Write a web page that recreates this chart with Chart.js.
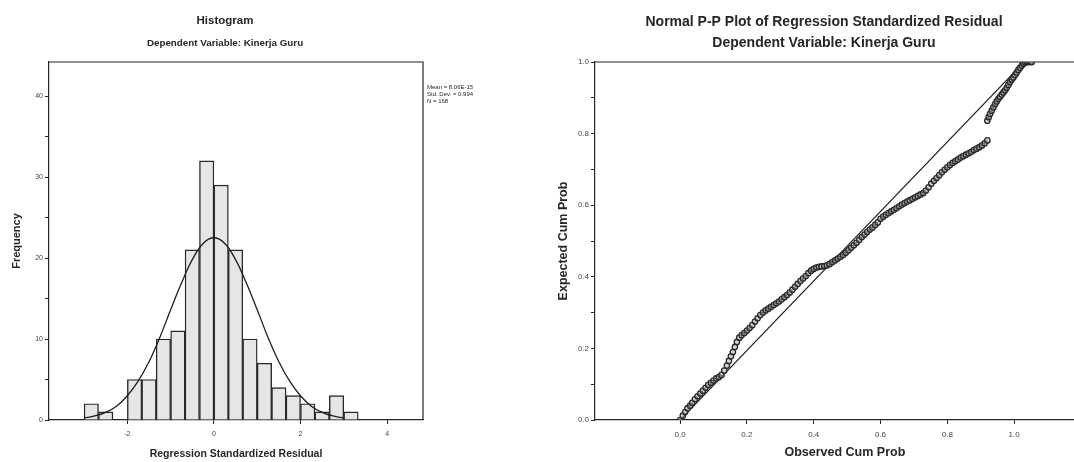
<!DOCTYPE html>
<html>
<head>
<meta charset="utf-8">
<script src="https://cdn.jsdelivr.net/npm/chart.js@4.4.1/dist/chart.umd.min.js"></script>
<style>
    html, body { margin: 0; padding: 0; background: #fff; overflow: hidden; width: 1074px; height: 462px; }
    #histChart { position: absolute; left: 0; top: 0; }
    #ppChart { position: absolute; left: 540px; top: 0; }
</style>
</head>
<body>
<canvas id="histChart" width="540" height="462"></canvas>
<canvas id="ppChart" width="560" height="462"></canvas>
<script>
// histogram of residuals (bins 1/3 wide)
const binCenters = [-2.833, -2.5, -2.167, -1.833, -1.5, -1.167, -0.833, -0.5, -0.167, 0.167, 0.5, 0.833, 1.167, 1.5, 1.833, 2.167, 2.5, 2.833, 3.167];
const binCounts = [2, 1, 0, 5, 5, 10, 11, 21, 32, 29, 21, 10, 7, 4, 3, 2, 1, 3, 1];

// normal curve
const curveX = [-3, -2.75, -2.5, -2.25, -2, -1.75, -1.5, -1.25, -1, -0.75, -0.5, -0.25, 0, 0.25, 0.5, 0.75, 1, 1.25, 1.5, 1.75, 2, 2.25, 2.5, 2.75, 3];
const curveY = [0.25, 0.5, 0.95, 1.7, 3.0, 4.8, 7.2, 10.2, 13.6, 16.9, 19.8, 21.8, 22.5, 21.8, 19.8, 16.9, 13.6, 10.2, 7.2, 4.8, 3.0, 1.7, 0.95, 0.5, 0.25];

const histXTicks = [-2, 0, 2, 4];
const histYTicks = [0, 10, 20, 30, 40];
const histYMinor = [5, 15, 25, 35];
const histStats = ['Mean = 8.06E-15', 'Std. Dev. = 0.994', 'N = 168'];

// normal P-P plot points
const ppObserved = [
    0.0, 0.008, 0.015, 0.022, 0.03, 0.036, 0.044, 0.052, 0.06, 0.068, 0.076, 0.084, 0.092, 0.1, 0.108, 0.116, 0.124, 0.132, 0.14, 0.146,
    0.152, 0.158, 0.164, 0.17, 0.177, 0.184, 0.192, 0.2, 0.208, 0.216, 0.224, 0.232, 0.24, 0.248, 0.256, 0.264, 0.272, 0.28, 0.288, 0.296,
    0.304, 0.312, 0.32, 0.328, 0.336, 0.344, 0.352, 0.36, 0.368, 0.376, 0.384, 0.392, 0.4, 0.408, 0.416, 0.424, 0.432, 0.44, 0.448, 0.456,
    0.464, 0.472, 0.48, 0.488, 0.496, 0.504, 0.512, 0.52, 0.528, 0.536, 0.544, 0.552, 0.56, 0.568, 0.576, 0.584, 0.592, 0.6, 0.608, 0.616,
    0.624, 0.632, 0.64, 0.648, 0.656, 0.664, 0.672, 0.68, 0.688, 0.696, 0.704, 0.712, 0.72, 0.728, 0.736, 0.744, 0.752, 0.76, 0.768, 0.776,
    0.784, 0.792, 0.8, 0.808, 0.816, 0.824, 0.832, 0.84, 0.848, 0.856, 0.864, 0.872, 0.88, 0.888, 0.896, 0.904, 0.912, 0.92,
    0.92, 0.924, 0.928, 0.933, 0.938, 0.943, 0.948, 0.953, 0.958, 0.963, 0.968, 0.973, 0.978, 0.983, 0.988, 0.993, 0.998, 1.003, 1.008, 1.013,
    1.018, 1.023, 1.028, 1.033, 1.038, 1.043, 1.048, 1.053
];
const ppExpected = [
    0.0, 0.012, 0.022, 0.033, 0.04, 0.048, 0.058, 0.066, 0.074, 0.082, 0.09, 0.098, 0.104, 0.11, 0.116, 0.12, 0.126, 0.138, 0.152, 0.165,
    0.178, 0.19, 0.204, 0.218, 0.23, 0.237, 0.243, 0.25, 0.257, 0.265, 0.275, 0.284, 0.293, 0.3, 0.306, 0.311, 0.316, 0.321, 0.326, 0.331,
    0.337, 0.343, 0.349, 0.356, 0.364, 0.372, 0.38, 0.388, 0.395, 0.402, 0.41, 0.417, 0.422, 0.426, 0.428, 0.429, 0.43, 0.432, 0.436, 0.441,
    0.446, 0.451, 0.456, 0.461, 0.467, 0.474, 0.481, 0.488, 0.495, 0.503, 0.511, 0.518, 0.525, 0.532, 0.538, 0.545, 0.552, 0.562, 0.568, 0.573,
    0.578, 0.583, 0.587, 0.592, 0.597, 0.602, 0.606, 0.61, 0.614, 0.618, 0.622, 0.626, 0.63, 0.634, 0.641, 0.65, 0.66, 0.668, 0.676, 0.684,
    0.692, 0.699, 0.706, 0.712, 0.718, 0.723, 0.728, 0.733, 0.737, 0.741, 0.745, 0.749, 0.754, 0.758, 0.762, 0.767, 0.773, 0.781,
    0.836, 0.846, 0.855, 0.864, 0.873, 0.882, 0.89, 0.897, 0.903, 0.909, 0.915, 0.921, 0.928, 0.936, 0.944, 0.951, 0.957, 0.964, 0.971, 0.978,
    0.984, 0.99, 0.995, 0.998, 1.0, 1.0, 1.0, 1.0
];
const refLineX = [0, 1.03];
const refLineY = [0, 1];
const ppTicks = [0, 0.2, 0.4, 0.6, 0.8, 1.0];
const ppYMinor = [0.1, 0.3, 0.5, 0.7, 0.9];

const histTitle = 'Histogram';
const ppTitle = 'Normal P-P Plot of Regression Standardized Residual';
const subTitle = 'Dependent Variable: Kinerja Guru';

const FONT = '"Liberation Sans", Arial, sans-serif';
const INK = '#262626';
const TICK_INK = '#444';

// titles at fixed spots, chart.js title box can't be offset
const headingPlugin = {
    id: 'heading',
    afterDraw(chart, args, o) {
        const ctx = chart.ctx;
        ctx.save();
        ctx.fillStyle = INK;
        ctx.textAlign = 'center';
        ctx.textBaseline = 'middle';
        ctx.font = 'bold ' + o.titleSize + 'px ' + FONT;
        ctx.fillText(o.title, o.x, o.titleY);
        ctx.font = 'bold ' + o.subSize + 'px ' + FONT;
        ctx.fillText(o.subtitle, o.x, o.subY);
        if (o.stats) {
            ctx.textAlign = 'left';
            ctx.font = '6px ' + FONT;
            o.stats.forEach((s, i) => ctx.fillText(s, chart.chartArea.right + 4, chart.chartArea.top + 25 + i * 7));
        }
        ctx.restore();
    }
};

// top / right border of the plot frame
const framePlugin = {
    id: 'frame',
    beforeDatasetsDraw(chart, args, o) {
        const { left, right, top, bottom } = chart.chartArea;
        const ctx = chart.ctx;
        ctx.save();
        ctx.strokeStyle = INK;
        ctx.lineWidth = 1.2;
        ctx.beginPath();
        ctx.moveTo(left, top);
        ctx.lineTo(right, top);
        if (o.right) ctx.lineTo(right, bottom);
        ctx.stroke();
        ctx.restore();
    }
};

function axis(extra) {
    return Object.assign({
        type: 'linear',
        offset: false,
        border: { display: true, color: INK, width: 1.2 },
        grid: { display: true, offset: false, drawOnChartArea: false, drawTicks: true, tickLength: 4, color: INK },
    }, extra);
}

// major + unlabelled minor ticks
function tickSetter(major, minor) {
    return s => {
        s.ticks = major.concat(minor || []).sort((a, b) => a - b).map(v => ({ value: v, minor: !major.includes(v) }));
    };
}

new Chart(document.getElementById('histChart'), {
    type: 'bar',
    data: {
        datasets: [{
            type: 'line',
            data: curveX.map((x, i) => ({ x: x, y: curveY[i] })),
            borderColor: '#1e1e1e',
            borderWidth: 1.3,
            pointRadius: 0,
            tension: 0.4,
            fill: false,
            order: 0
        }, {
            type: 'bar',
            data: binCenters.map((x, i) => ({ x: x, y: binCounts[i] })),
            backgroundColor: '#e6e6e6',
            borderColor: '#2a2a2a',
            borderWidth: 1.4,
            barPercentage: 1,
            categoryPercentage: 1,
            order: 1
        }]
    },
    options: {
        responsive: false,
        animation: false,
        layout: { padding: { top: 62, left: 10, right: 117, bottom: 0 } },
        plugins: {
            legend: { display: false },
            tooltip: { enabled: false },
            heading: { title: histTitle, subtitle: subTitle, x: 225, titleY: 21, subY: 43, titleSize: 11.5, subSize: 9.8, stats: histStats },
            frame: { right: true }
        },
        scales: {
            x: axis({
                min: -3.81, max: 4.83,
                afterBuildTicks: tickSetter(histXTicks),
                afterFit: s => { s.height = 42; },
                ticks: { color: TICK_INK, font: { family: FONT, size: 7 }, padding: 6, maxRotation: 0 },
                title: { display: true, text: 'Regression Standardized Residual', color: INK, font: { family: FONT, size: 10.5, weight: 'bold' }, padding: { top: 0, bottom: 2 } }
            }),
            y: axis({
                min: 0, max: 44.2,
                afterBuildTicks: tickSetter(histYTicks, histYMinor),
                afterFit: s => { s.width = 39; },
                ticks: { color: TICK_INK, font: { family: FONT, size: 7 }, padding: 2, callback: v => histYTicks.includes(v) ? v : '' },
                title: { display: true, text: 'Frequency', color: INK, font: { family: FONT, size: 11, weight: 'bold' }, padding: 0 }
            })
        }
    },
    plugins: [headingPlugin, framePlugin]
});

new Chart(document.getElementById('ppChart'), {
    type: 'scatter',
    data: {
        datasets: [{
            type: 'line',
            data: refLineX.map((x, i) => ({ x: x, y: refLineY[i] })),
            borderColor: '#1e1e1e',
            borderWidth: 1.1,
            pointRadius: 0,
            fill: false,
            order: 1
        }, {
            data: ppObserved.map((x, i) => ({ x: x, y: ppExpected[i] })),
            pointRadius: 2.7,
            borderWidth: 1.3,
            borderColor: '#2a2a2a',
            backgroundColor: 'rgba(170,170,170,0.5)',
            order: 0
        }]
    },
    options: {
        responsive: false,
        animation: false,
        layout: { padding: { top: 62, left: 16, right: 0, bottom: 0 } },
        plugins: {
            legend: { display: false },
            tooltip: { enabled: false },
            heading: { title: ppTitle, subtitle: subTitle, x: 284, titleY: 22, subY: 43, titleSize: 14, subSize: 14 },
            frame: { right: false }
        },
        scales: {
            x: axis({
                min: -0.255, max: 1.2415,
                afterBuildTicks: tickSetter(ppTicks),
                afterFit: s => { s.height = 42; },
                ticks: { color: TICK_INK, font: { family: FONT, size: 8 }, padding: 6, maxRotation: 0, callback: v => v.toFixed(1) },
                title: { display: true, text: 'Observed Cum Prob', color: INK, font: { family: FONT, size: 12.5, weight: 'bold' }, padding: { top: 0, bottom: 2 } }
            }),
            y: axis({
                min: 0, max: 1,
                afterBuildTicks: tickSetter(ppTicks, ppYMinor),
                afterFit: s => { s.width = 39; },
                ticks: { color: TICK_INK, font: { family: FONT, size: 8 }, padding: 2, callback: v => ppTicks.includes(v) ? v.toFixed(1) : '' },
                title: { display: true, text: 'Expected Cum Prob', color: INK, font: { family: FONT, size: 12.5, weight: 'bold' }, padding: 0 }
            })
        }
    },
    plugins: [headingPlugin, framePlugin]
});
</script>
</body>
</html>
